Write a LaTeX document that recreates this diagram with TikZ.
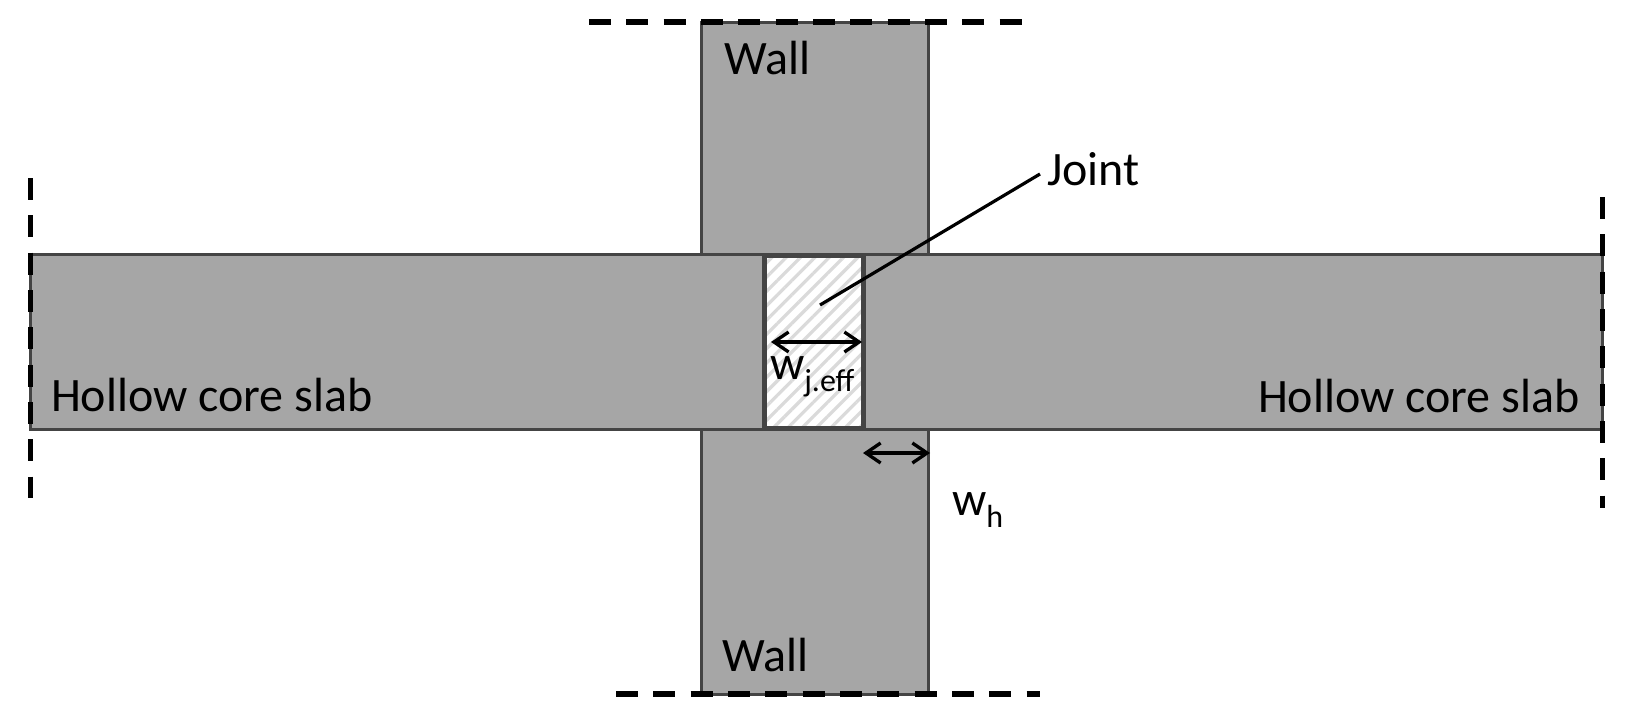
\documentclass[tikz,border=0pt]{standalone}
\usepackage{fontspec}
\setmainfont{Carlito}
\usetikzlibrary{arrows.meta,patterns.meta}
\definecolor{slabfill}{HTML}{A6A6A6}
\definecolor{slabline}{HTML}{444444}
\definecolor{hatchline}{HTML}{DADADA}
\newcommand{\subtxt}[2]{#1\raisebox{-.26em}{\fontsize{24}{24}\selectfont #2}}
\tikzset{
  member/.style={draw=slabline,fill=slabfill,line width=2.25pt,rectangle,inner sep=0pt,outer sep=0pt},
  label/.style={inner sep=0pt,outer sep=0pt,anchor=base west,font=\fontsize{36}{36}\selectfont},
  cutline/.style={line width=3.8pt,dash pattern=on 16.5pt off 11.5pt},
  dimline/.style={line width=2.5pt,{Straight Barb[length=11pt,width=15pt]}-{Straight Barb[length=11pt,width=15pt]}}
}
\begin{document}
\begin{tikzpicture}[x=.75pt,y=-.75pt]
  \useasboundingbox (0,0) rectangle (1628,714);
  % walls first, the slabs lie on top of them
  \node[member,minimum width=169.9pt,minimum height=174pt] (wall_t) at (815,138) {};
  \node[member,minimum width=169.9pt,minimum height=198.75pt] (wall_b) at (815,561.5) {};
  \node[member,minimum width=550.5pt,minimum height=131.25pt] (slab_l) at (397,342) {};
  \node[member,minimum width=554.25pt,minimum height=131.25pt] (slab_r) at (1232.5,342) {};
  \node[rectangle,draw=slabline,line width=3.5pt,inner sep=0pt,outer sep=0pt,
    minimum width=73.9pt,minimum height=129.5pt,preaction={fill=white},
    pattern={Lines[angle=45,distance=7.6pt,line width=2.4pt]},pattern color=hatchline] (joint) at (814,342) {};

  \coordinate (cut_t0) at (589,22);
  \coordinate (cut_t1) at (1022,22);
  \coordinate (cut_b0) at (616,694);
  \coordinate (cut_b1) at (1040,694);
  \coordinate (cut_l0) at (30.5,178);
  \coordinate (cut_l1) at (30.5,498);
  \coordinate (cut_r0) at (1602.5,197);
  \coordinate (cut_r1) at (1602.5,508);
  \draw[cutline] (cut_t0) -- (cut_t1);
  \draw[cutline] (cut_b0) -- (cut_b1);
  \draw[cutline] (cut_l0) -- (cut_l1);
  \draw[cutline] (cut_r0) -- (cut_r1);

  \node[label] (wall_tl) at (724,74) {Wall};
  \node[label] (wall_bl) at (722,671) {Wall};
  \node[label] (slab_ll) at (51,411) {Hollow core slab};
  \node[label] (slab_rl) at (1258,412) {Hollow core slab};
  \node[label] (joint_l) at (1047,185) {Joint};
  \node[label] (w_j) at (770,379) {\subtxt{w}{j.eff}};
  \node[label] (w_h) at (952,515) {\subtxt{w}{h}};

  \coordinate (lead) at (820,305);
  \coordinate (w_j0) at (771,342);
  \coordinate (w_j1) at (862,342);
  \coordinate (w_h0) at (863,453);
  \coordinate (w_h1) at (930,453);
  \draw[line width=2.4pt] (joint_l.west |- 0,174) ++(-7,0) coordinate (lead0) -- (lead);
  \draw[dimline] (w_j0) -- (w_j1);
  \draw[dimline] (w_h0) -- (w_h1);
\end{tikzpicture}
\end{document}
